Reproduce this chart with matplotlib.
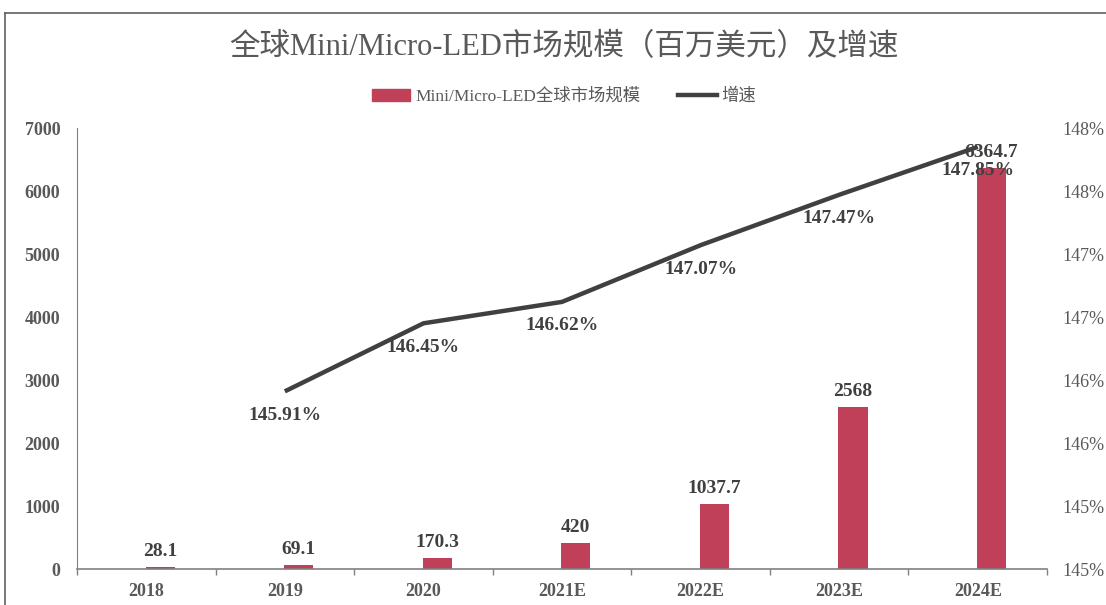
import math
import matplotlib
matplotlib.use("Agg")
import matplotlib.pyplot as plt
from matplotlib.lines import Line2D
from matplotlib.patches import Patch
from matplotlib.ticker import FuncFormatter

plt.rcParams['font.family'] = ['Liberation Serif', 'Noto Sans CJK SC']

# Data
years = ["2018", "2019", "2020", "2021E", "2022E", "2023E", "2024E"]
market = [28.1, 69.1, 170.3, 420, 1037.7, 2568, 6364.7]
growth_years = ["2019", "2020", "2021E", "2022E", "2023E", "2024E"]
growth = [145.91, 146.45, 146.62, 147.07, 147.47, 147.85]

bar_color = "#C0405A"
line_color = "#404040"
text_gray = "#595959"

fig = plt.figure(figsize=(11.06, 6.05), dpi=100)
ax = fig.add_axes([0.0696, 0.0595, 0.8771, 0.7289])
ax2 = ax.twinx()

x = list(range(len(years)))
ax.bar([i + 0.1 for i in x], market, width=0.21, color=bar_color, zorder=2)
for i, v in zip(x, market):
    ax.annotate(f"{v:g}", (i + 0.1, v), xytext=(0, 7), textcoords="offset pixels",
                ha="center", va="bottom", fontsize=14, fontweight="bold", color=line_color)

gx = [years.index(y) for y in growth_years]
ax2.plot(gx, growth, color=line_color, lw=3.2, solid_capstyle="butt", zorder=3)
for i, v in zip(gx, growth):
    ax2.annotate(f"{v:.2f}%", (i, v), xytext=(0, -24), textcoords="offset pixels",
                 ha="center", va="center", fontsize=14, fontweight="bold", color=line_color)

# Axes
ax.set_xlim(-0.5, len(years) - 0.5)
ax.set_ylim(0, 7000)
ax.set_yticks(range(0, 7001, 1000))
ax2.set_ylim(144.5, 148.0)
ax2.set_yticks([144.5 + 0.5 * k for k in range(8)])
ax2.yaxis.set_major_formatter(FuncFormatter(lambda v, p: f"{math.floor(v + 0.5):d}%"))

ax.set_xticks(x)
ax.set_xticklabels(years, fontsize=13, fontweight="bold", color=text_gray)
ax.set_xticks([i - 0.5 for i in range(len(years) + 1)], minor=True)
ax.tick_params(axis="x", which="major", length=0, pad=10)
ax.tick_params(axis="x", which="minor", length=4, color="#808080", width=1)
ax.tick_params(axis="y", length=0, pad=12, labelsize=13, labelcolor=text_gray)
for lab in ax.get_yticklabels():
    lab.set_fontweight("bold")
ax2.tick_params(axis="y", length=0, pad=11, labelsize=13, labelcolor=text_gray)

for a in (ax, ax2):
    a.spines["top"].set_visible(False)
    a.spines["right"].set_visible(False)
ax2.spines["left"].set_visible(False)
ax2.spines["bottom"].set_visible(False)
ax.spines["left"].set_color("#808080")
ax.spines["bottom"].set_color("#808080")
ax.spines["bottom"].set_linewidth(1.2)

# Title and legend
fig.text(0.51, 0.922, "全球Mini/Micro-LED市场规模（百万美元）及增速", ha="center", va="center",
         fontsize=22, color=text_gray)
handles = [Patch(color=bar_color), Line2D([0], [0], color=line_color, lw=3.2)]
fig.legend(handles, ["Mini/Micro-LED全球市场规模", "增速"], loc="center", bbox_to_anchor=(0.51, 0.84),
           ncol=2, frameon=False, fontsize=12.5, labelcolor=text_gray, handlelength=2.2,
           handletextpad=0.3, columnspacing=2.2)

# Outer frame
fig.add_artist(Line2D([5 / 1106, 1.0], [1 - 13 / 605, 1 - 13 / 605], transform=fig.transFigure,
                      color="#606060", lw=1.2))
fig.add_artist(Line2D([5 / 1106, 5 / 1106], [0, 1 - 13 / 605], transform=fig.transFigure,
                      color="#606060", lw=1.2))

fig.savefig("out.png", dpi=100)
